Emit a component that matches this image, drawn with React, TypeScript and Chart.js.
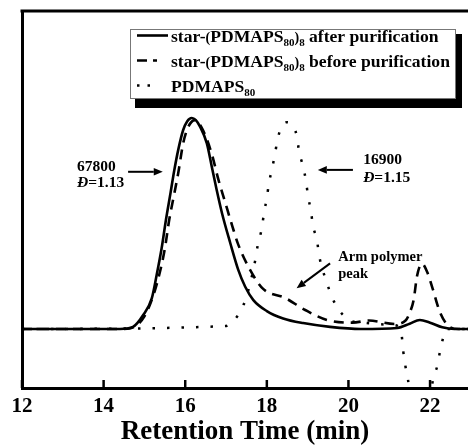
import React, { useEffect, useRef } from "react";
import { Chart, registerables } from "chart.js";
Chart.register(...registerables);

const FONT = '"Times New Roman", "Liberation Serif", serif';

// x ticks (min)
const xTicks = [12, 14, 16, 18, 20, 22];

// star-(PDMAPS80)8 after purification (solid)
const afterTime = [12, 14.4, 14.72, 14.97, 15.18, 15.3, 15.42, 15.53, 15.64, 15.73, 15.83, 15.95, 16.05, 16.16, 16.26, 16.36, 16.53, 16.65, 16.77, 16.9, 17.1, 17.3, 17.47, 17.67, 18.0, 18.4, 18.89, 19.55, 20.3, 21.2, 21.5, 21.75, 22.0, 22.3, 22.6, 23];
const afterSignal = [0, 0, 0.01, 0.066, 0.145, 0.256, 0.38, 0.52, 0.645, 0.75, 0.85, 0.943, 0.985, 1.0, 0.99, 0.96, 0.88, 0.77, 0.66, 0.55, 0.41, 0.28, 0.2, 0.137, 0.085, 0.05, 0.028, 0.01, 0, 0.005, 0.025, 0.043, 0.03, 0.008, 0, 0];

// star-(PDMAPS80)8 before purification (dashed)
const beforeTime = [12, 14.5, 14.75, 15.0, 15.22, 15.38, 15.5, 15.61, 15.71, 15.83, 15.95, 16.08, 16.24, 16.44, 16.65, 16.81, 16.98, 17.15, 17.3, 17.59, 17.91, 18.45, 18.94, 19.47, 20.1, 20.5, 21.14, 21.4, 21.5, 21.6, 21.68, 21.8, 21.93, 22.05, 22.25, 22.45, 22.7, 23];
const beforeSignal = [0, 0, 0.01, 0.06, 0.16, 0.27, 0.38, 0.52, 0.62, 0.74, 0.88, 0.96, 0.99, 0.94, 0.83, 0.71, 0.6, 0.49, 0.4, 0.28, 0.19, 0.147, 0.09, 0.043, 0.03, 0.04, 0.024, 0.04, 0.076, 0.14, 0.25, 0.31, 0.27, 0.2, 0.076, 0.015, 0, 0];

// PDMAPS80 (dotted)
const armTime = [12, 16.98, 17.22, 17.42, 17.57, 17.71, 17.78, 17.88, 17.93, 18.0, 18.05, 18.13, 18.2, 18.27, 18.4, 18.5, 18.6, 18.74, 18.79, 18.89, 18.96, 19.01, 19.08, 19.13, 19.23, 19.28, 19.47, 19.6, 19.75, 20.04, 20.36, 21.0, 21.25, 21.31, 21.34, 21.4, 21.46, 21.55, 21.77, 21.98, 22.07, 22.17, 22.25, 22.32, 22.4, 23];
const armSignal = [0, 0.014, 0.047, 0.11, 0.2, 0.32, 0.4, 0.48, 0.55, 0.62, 0.69, 0.76, 0.83, 0.905, 0.97, 0.98, 0.97, 0.91, 0.84, 0.77, 0.7, 0.63, 0.56, 0.49, 0.42, 0.35, 0.22, 0.15, 0.095, 0.04, 0.03, 0.02, 0.01, -0.038, -0.1, -0.18, -0.24, -0.4, -0.55, -0.4, -0.24, -0.18, -0.1, -0.043, 0, 0];

type Seg = { t: string; size: number; dy?: number; italic?: boolean };

const LS = 17.6;
const legendRows: { segs: Seg[]; style: "solid" | "dashed" | "dotted" }[] = [
  {
    style: "solid",
    segs: [
      { t: "star-", size: LS },
      { t: "(", size: 14 },
      { t: "PDMAPS", size: LS },
      { t: "80", size: 11, dy: 4 },
      { t: ")", size: 14 },
      { t: "8", size: 11, dy: 4 },
      { t: " after purification", size: LS },
    ],
  },
  {
    style: "dashed",
    segs: [
      { t: "star-", size: LS },
      { t: "(", size: 14 },
      { t: "PDMAPS", size: LS },
      { t: "80", size: 11, dy: 4 },
      { t: ")", size: 14 },
      { t: "8", size: 11, dy: 4 },
      { t: " before purification", size: LS },
    ],
  },
  {
    style: "dotted",
    segs: [
      { t: "PDMAPS", size: LS },
      { t: "80", size: 11, dy: 4 },
    ],
  },
];

// annotation texts positioned in data units (time, signal) = text baseline start
const notes: { segs: Seg[]; x: number; y: number }[] = [
  { segs: [{ t: "67800", size: 15.5 }], x: 13.35, y: 0.75 },
  { segs: [{ t: "Đ", size: 15.5, italic: true }, { t: "=1.13", size: 15.5 }], x: 13.35, y: 0.671 },
  { segs: [{ t: "16900", size: 15.5 }], x: 20.36, y: 0.782 },
  { segs: [{ t: "Đ", size: 15.5, italic: true }, { t: "=1.15", size: 15.5 }], x: 20.36, y: 0.695 },
  { segs: [{ t: "Arm polymer", size: 14.5 }], x: 19.75, y: 0.322 },
  { segs: [{ t: "peak", size: 14.5 }], x: 19.75, y: 0.243 },
];

// arrows: from (x1,y1) to (x2,y2) in data units, head at the end
const arrows = [
  { x1: 14.6, y1: 0.745, x2: 15.45, y2: 0.745 },
  { x1: 20.11, y1: 0.754, x2: 19.25, y2: 0.754 },
  { x1: 19.55, y1: 0.311, x2: 18.73, y2: 0.193 },
];

function drawRich(ctx: CanvasRenderingContext2D, segs: Seg[], x: number, y: number) {
  let cx = x;
  for (const s of segs) {
    ctx.font = `${s.italic ? "italic " : ""}bold ${s.size}px ${FONT}`;
    ctx.fillText(s.t, cx, y + (s.dy || 0));
    cx += ctx.measureText(s.t).width;
  }
}

function drawArrow(ctx: CanvasRenderingContext2D, x1: number, y1: number, x2: number, y2: number) {
  const ang = Math.atan2(y2 - y1, x2 - x1);
  const hl = 9;
  const hw = 3.8;
  const bx = x2 - hl * Math.cos(ang);
  const by = y2 - hl * Math.sin(ang);
  ctx.beginPath();
  ctx.moveTo(x1, y1);
  ctx.lineTo(bx, by);
  ctx.lineWidth = 2;
  ctx.strokeStyle = "#000";
  ctx.stroke();
  ctx.beginPath();
  ctx.moveTo(x2, y2);
  ctx.lineTo(bx + hw * Math.sin(ang), by - hw * Math.cos(ang));
  ctx.lineTo(bx - hw * Math.sin(ang), by + hw * Math.cos(ang));
  ctx.closePath();
  ctx.fillStyle = "#000";
  ctx.fill();
}

const decorPlugin = {
  id: "decor",
  afterDraw(chart: any) {
    const ctx: CanvasRenderingContext2D = chart.ctx;
    const { left, right, top, bottom } = chart.chartArea;
    const xs = chart.scales.x;
    const ys = chart.scales.y;
    ctx.save();
    // top frame line
    ctx.strokeStyle = "#000";
    ctx.lineWidth = 3;
    ctx.beginPath();
    ctx.moveTo(left - 1.5, top);
    ctx.lineTo(right + 2, top);
    ctx.stroke();
    // inward tick marks
    ctx.lineWidth = 2.5;
    for (const t of xs.ticks) {
      const px = xs.getPixelForValue(t.value);
      ctx.beginPath();
      ctx.moveTo(px, bottom);
      ctx.lineTo(px, bottom - 8);
      ctx.stroke();
    }
    // annotations
    ctx.fillStyle = "#000";
    ctx.textBaseline = "alphabetic";
    ctx.textAlign = "left";
    for (const n of notes) {
      drawRich(ctx, n.segs, xs.getPixelForValue(n.x), ys.getPixelForValue(n.y));
    }
    for (const a of arrows) {
      drawArrow(ctx, xs.getPixelForValue(a.x1), ys.getPixelForValue(a.y1), xs.getPixelForValue(a.x2), ys.getPixelForValue(a.y2));
    }
    // legend box
    const bx = 130, by = 29, bw = 326, bh = 70;
    ctx.fillStyle = "#000";
    ctx.fillRect(bx + 5, by + 5, bw + 1, bh + 4);
    ctx.fillStyle = "#fff";
    ctx.fillRect(bx, by, bw, bh);
    ctx.strokeStyle = "#777";
    ctx.lineWidth = 1;
    ctx.strokeRect(bx + 0.5, by + 0.5, bw - 1, bh - 1);
    legendRows.forEach((row, i) => {
      const baseY = 41.5 + i * 25;
      const midY = baseY - 6;
      ctx.strokeStyle = "#000";
      ctx.lineWidth = 2.6;
      ctx.beginPath();
      if (row.style === "solid") {
        ctx.setLineDash([]);
        ctx.moveTo(137, midY);
        ctx.lineTo(168, midY);
      } else if (row.style === "dashed") {
        ctx.setLineDash([10, 6]);
        ctx.moveTo(137, midY);
        ctx.lineTo(157, midY);
      } else {
        ctx.setLineDash([2.5, 8]);
        ctx.moveTo(137, midY);
        ctx.lineTo(152, midY);
      }
      ctx.stroke();
      ctx.setLineDash([]);
      ctx.fillStyle = "#000";
      drawRich(ctx, row.segs, 171, baseY);
    });
    ctx.restore();
  },
};

export default function App() {
  const ref = useRef<HTMLCanvasElement | null>(null);
  useEffect(() => {
    if (!ref.current) return;
    const toPts = (xs: number[], ys: number[]) => xs.map((x, i) => ({ x, y: ys[i] }));
    const chart = new Chart(ref.current, {
      type: "line",
      data: {
        datasets: [
          {
            label: "PDMAPS80",
            data: toPts(armTime, armSignal),
            borderColor: "#000",
            borderWidth: 2.5,
            borderDash: [2.5, 12],
            pointRadius: 0,
            cubicInterpolationMode: "monotone",
            fill: false,
          },
          {
            label: "star-(PDMAPS80)8 before purification",
            data: toPts(beforeTime, beforeSignal),
            borderColor: "#000",
            borderWidth: 2.6,
            borderDash: [10, 7],
            pointRadius: 0,
            cubicInterpolationMode: "monotone",
            fill: false,
          },
          {
            label: "star-(PDMAPS80)8 after purification",
            data: toPts(afterTime, afterSignal),
            borderColor: "#000",
            borderWidth: 2.6,
            pointRadius: 0,
            cubicInterpolationMode: "monotone",
            fill: false,
          },
        ],
      },
      options: {
        animation: false,
        responsive: false,
        devicePixelRatio: 1,
        layout: { padding: { left: 0, top: 11, right: 0, bottom: 0 } },
        plugins: { legend: { display: false }, tooltip: { enabled: false } },
        scales: {
          x: {
            type: "linear",
            min: 12,
            max: 22.93,
            afterBuildTicks: (s: any) => {
              s.ticks = xTicks.map((v) => ({ value: v }));
            },
            ticks: {
              font: { family: FONT, size: 21, weight: "bold" },
              color: "#000",
              padding: 6,
              maxRotation: 0,
              autoSkip: false,
            },
            grid: { display: false, drawTicks: false },
            border: { display: true, color: "#000", width: 3 },
            title: {
              display: true,
              text: "Retention Time (min)",
              font: { family: FONT, size: 27, weight: "bold" },
              color: "#000",
              padding: { top: 0, bottom: 0 },
            },
            afterFit: (s: any) => {
              s.height = 60;
              s.paddingLeft = 0;
              s.paddingRight = 0;
            },
          },
          y: {
            min: -0.2796,
            max: 1.507,
            ticks: { display: false },
            grid: { display: false, drawTicks: false },
            border: { display: true, color: "#000", width: 3 },
            afterFit: (s: any) => {
              s.width = 22;
              s.paddingTop = 0;
              s.paddingBottom = 0;
            },
          },
        },
      },
      plugins: [decorPlugin],
    } as any);
    return () => chart.destroy();
  }, []);
  return (
    <canvas
      ref={ref}
      width={468}
      height={448}
      style={{ position: "fixed", left: 0, top: 0, width: 468, height: 448, background: "#fff" }}
    />
  );
}
